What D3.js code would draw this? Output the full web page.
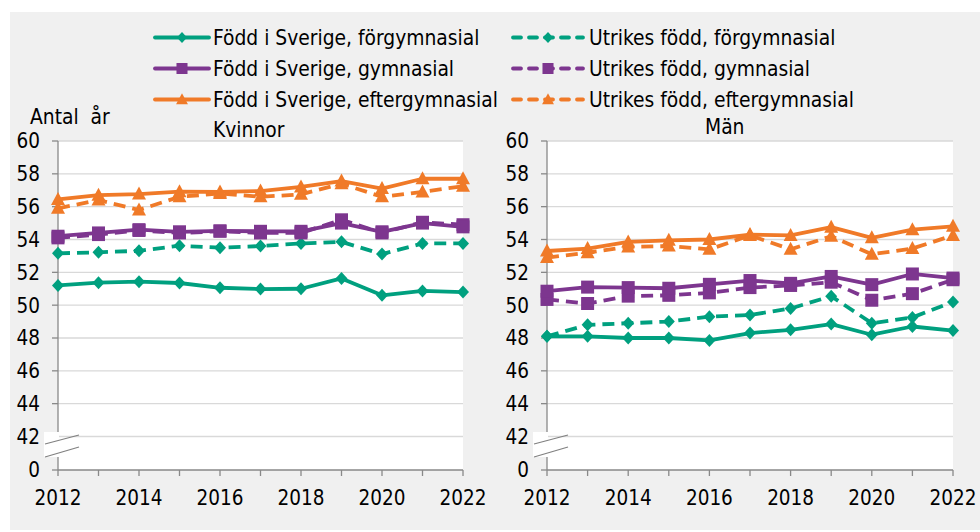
<!DOCTYPE html>
<html>
<head>
<meta charset="utf-8">
<script src="https://cdn.jsdelivr.net/npm/d3@7"></script>
<style>
  body { margin: 0; background: #fff; }
  svg text { font-family: "DejaVu Sans Condensed", "DejaVu Sans", sans-serif; fill: #000; white-space: pre; }
</style>
</head>
<body>
<svg id="chart" width="980" height="532"></svg>
<script>
var years = [2012, 2013, 2014, 2015, 2016, 2017, 2018, 2019, 2020, 2021, 2022];
var yTicks = [0, 42, 44, 46, 48, 50, 52, 54, 56, 58, 60];
var xLabels = [2012, 2014, 2016, 2018, 2020, 2022];

// Kvinnor
var kSverigeFor  = [51.2, 51.37, 51.43, 51.35, 51.06, 50.98, 51.0, 51.63, 50.6, 50.87, 50.8];
var kUtrikesFor  = [53.16, 53.22, 53.31, 53.62, 53.5, 53.6, 53.76, 53.86, 53.11, 53.76, 53.76];
var kSverigeGym  = [54.2, 54.4, 54.6, 54.47, 54.53, 54.5, 54.5, 55.0, 54.47, 55.0, 54.77];
var kUtrikesGym  = [54.1, 54.3, 54.55, 54.4, 54.5, 54.4, 54.4, 55.2, 54.4, 55.05, 54.9];
var kSverigeEft  = [56.44, 56.7, 56.77, 56.91, 56.9, 56.95, 57.2, 57.56, 57.1, 57.7, 57.7];
var kUtrikesEft  = [55.9, 56.4, 55.8, 56.6, 56.8, 56.6, 56.75, 57.4, 56.6, 56.9, 57.25];

// Män
var mSverigeFor  = [48.1, 48.1, 48.0, 48.0, 47.85, 48.3, 48.5, 48.85, 48.2, 48.7, 48.45];
var mUtrikesFor  = [48.1, 48.8, 48.9, 49.0, 49.3, 49.4, 49.8, 50.55, 48.9, 49.25, 50.2];
var mSverigeGym  = [50.85, 51.1, 51.07, 51.03, 51.27, 51.5, 51.33, 51.75, 51.25, 51.9, 51.65];
var mUtrikesGym  = [50.35, 50.1, 50.55, 50.6, 50.75, 51.07, 51.2, 51.4, 50.3, 50.7, 51.55];
var mSverigeEft  = [53.3, 53.45, 53.85, 53.95, 54.0, 54.3, 54.25, 54.75, 54.1, 54.6, 54.8];
var mUtrikesEft  = [52.9, 53.2, 53.55, 53.6, 53.4, 54.25, 53.4, 54.2, 53.1, 53.45, 54.25];

var legendLabels = [
  "Född i Sverige, förgymnasial", "Född i Sverige, gymnasial", "Född i Sverige, eftergymnasial",
  "Utrikes född, förgymnasial", "Utrikes född, gymnasial", "Utrikes född, eftergymnasial"
];

var teal = "#00a07f", purple = "#7d368f", orange = "#f07a28";

var seriesStyle = [
  {color: teal,   dashed: false, shape: "diamond"},
  {color: purple, dashed: false, shape: "square"},
  {color: orange, dashed: false, shape: "triangle"},
  {color: teal,   dashed: true,  shape: "diamond"},
  {color: purple, dashed: true,  shape: "square"},
  {color: orange, dashed: true,  shape: "triangle"}
];

var panels = [
  {title: "Kvinnor", x0: 58, x1: 463, titleX: 213, titleY: 130,
   data: [kSverigeFor, kSverigeGym, kSverigeEft, kUtrikesFor, kUtrikesGym, kUtrikesEft]},
  {title: "Män", x0: 547, x1: 953, titleX: 705, titleY: 127,
   data: [mSverigeFor, mSverigeGym, mSverigeEft, mUtrikesFor, mUtrikesGym, mUtrikesEft]}
];

var svg = d3.select("#chart");

svg.append("rect").attr("x", 10).attr("y", 12).attr("width", 970).attr("height", 518)
  .attr("fill", "#f0f0f0");

var y = d3.scaleLinear().domain([0, 42, 60]).range([470, 436.5, 141]);

// marker shapes, scaled by s
var shapes = {
  diamond: function (s) { return "M0," + (-6.5 * s) + "L" + (6 * s) + ",0L0," + (6.5 * s) + "L" + (-6 * s) + ",0Z"; },
  square: function (s) { var h = 6.5 * s; return "M" + -h + "," + -h + "H" + h + "V" + h + "H" + -h + "Z"; },
  triangle: function (s) { return "M0," + (-7.5 * s) + "L" + (7 * s) + "," + (5.5 * s) + "L" + (-7 * s) + "," + (5.5 * s) + "Z"; }
};

function drawMarker(g, cx, cy, st, s) {
  g.append("path").attr("d", shapes[st.shape](s || 1))
    .attr("transform", "translate(" + cx + "," + cy + ")")
    .attr("fill", st.color);
}

panels.forEach(function (p) {
  var x = d3.scaleLinear().domain([2012, 2022]).range([p.x0, p.x1]);
  var g = svg.append("g");

  g.append("rect").attr("x", p.x0).attr("y", y(60)).attr("width", p.x1 - p.x0)
    .attr("height", y(0) - y(60)).attr("fill", "#fff");

  // gridlines
  g.selectAll(".grid").data(yTicks.filter(function (d) { return d > 0; })).enter()
    .append("line")
    .attr("x1", p.x0).attr("x2", p.x1)
    .attr("y1", function (d) { return y(d); }).attr("y2", function (d) { return y(d); })
    .attr("stroke", "#d9d9d9").attr("stroke-width", 1.3);

  // y axis
  g.append("line").attr("x1", p.x0).attr("x2", p.x0).attr("y1", y(60)).attr("y2", y(0))
    .attr("stroke", "#898989").attr("stroke-width", 1.3);
  g.selectAll(".ytick").data(yTicks).enter().append("line")
    .attr("x1", p.x0 - 6).attr("x2", p.x0)
    .attr("y1", function (d) { return y(d); }).attr("y2", function (d) { return y(d); })
    .attr("stroke", "#898989").attr("stroke-width", 1.3);
  g.selectAll(".ylab").data(yTicks).enter().append("text")
    .attr("x", p.x0 - 18).attr("y", function (d) { return y(d); })
    .attr("dy", "0.36em").attr("text-anchor", "end").attr("font-size", 20.5)
    .text(function (d) { return d; });

  // x axis
  g.append("line").attr("x1", p.x0).attr("x2", p.x1).attr("y1", y(0)).attr("y2", y(0))
    .attr("stroke", "#898989").attr("stroke-width", 1.3);
  g.selectAll(".xtick").data(years).enter().append("line")
    .attr("x1", function (d) { return x(d); }).attr("x2", function (d) { return x(d); })
    .attr("y1", y(0)).attr("y2", y(0) + 6)
    .attr("stroke", "#898989").attr("stroke-width", 1.3);
  g.selectAll(".xlab").data(xLabels).enter().append("text")
    .attr("x", function (d) { return x(d); }).attr("y", 505)
    .attr("text-anchor", "middle").attr("font-size", 20.5)
    .text(function (d) { return d; });

  // axis break
  g.append("rect").attr("x", p.x0 - 14).attr("y", 432).attr("width", 15).attr("height", 25)
    .attr("fill", "#fff");
  g.append("line").attr("x1", p.x0 - 13).attr("y1", 444).attr("x2", p.x0 + 21).attr("y2", 435)
    .attr("stroke", "#808080").attr("stroke-width", 1.2);
  g.append("line").attr("x1", p.x0 - 13).attr("y1", 457).attr("x2", p.x0 + 21).attr("y2", 447)
    .attr("stroke", "#808080").attr("stroke-width", 1.2);

  // series, drawn so that Född i Sverige ends on top
  var order = [3, 0, 4, 1, 5, 2];
  var line = d3.line().x(function (d, i) { return x(years[i]); }).y(function (d) { return y(d); });
  order.forEach(function (si) {
    var st = seriesStyle[si], vals = p.data[si];
    g.append("path").attr("d", line(vals)).attr("fill", "none")
      .attr("stroke", st.color).attr("stroke-width", 3.8)
      .attr("stroke-linejoin", "round")
      .attr("stroke-dasharray", st.dashed ? "12,7" : null);
    vals.forEach(function (v, i) { drawMarker(g, x(years[i]), y(v), st); });
  });

  g.append("text").attr("x", p.titleX).attr("y", p.titleY).attr("dy", "0.36em")
    .attr("font-size", 20.8).text(p.title);
});

svg.append("text").attr("x", 30).attr("y", 117).attr("dy", "0.36em")
  .attr("font-size", 20.8).text("Antal  år");

// legend
legendLabels.forEach(function (lab, i) {
  var col = Math.floor(i / 3), row = i % 3;
  var st = seriesStyle[i];
  var cy = 37.5 + row * 31;
  var lg = svg.append("g");
  if (col === 0) {
    lg.append("line").attr("x1", 155).attr("x2", 209).attr("y1", cy).attr("y2", cy)
      .attr("stroke", st.color).attr("stroke-width", 3.8).attr("stroke-linecap", "round");
    drawMarker(lg, 182, cy, st, 0.85);
    lg.append("text").attr("x", 213).attr("y", cy).attr("dy", "0.36em")
      .attr("font-size", 20.8).text(lab);
  } else {
    lg.append("line").attr("x1", 513).attr("x2", 583).attr("y1", cy).attr("y2", cy)
      .attr("stroke", st.color).attr("stroke-width", 3.8).attr("stroke-linecap", "round")
      .attr("stroke-dasharray", "8,8");
    drawMarker(lg, 548, cy, st, 0.85);
    lg.append("text").attr("x", 589).attr("y", cy).attr("dy", "0.36em")
      .attr("font-size", 20.8).text(lab);
  }
});
</script>
</body>
</html>
